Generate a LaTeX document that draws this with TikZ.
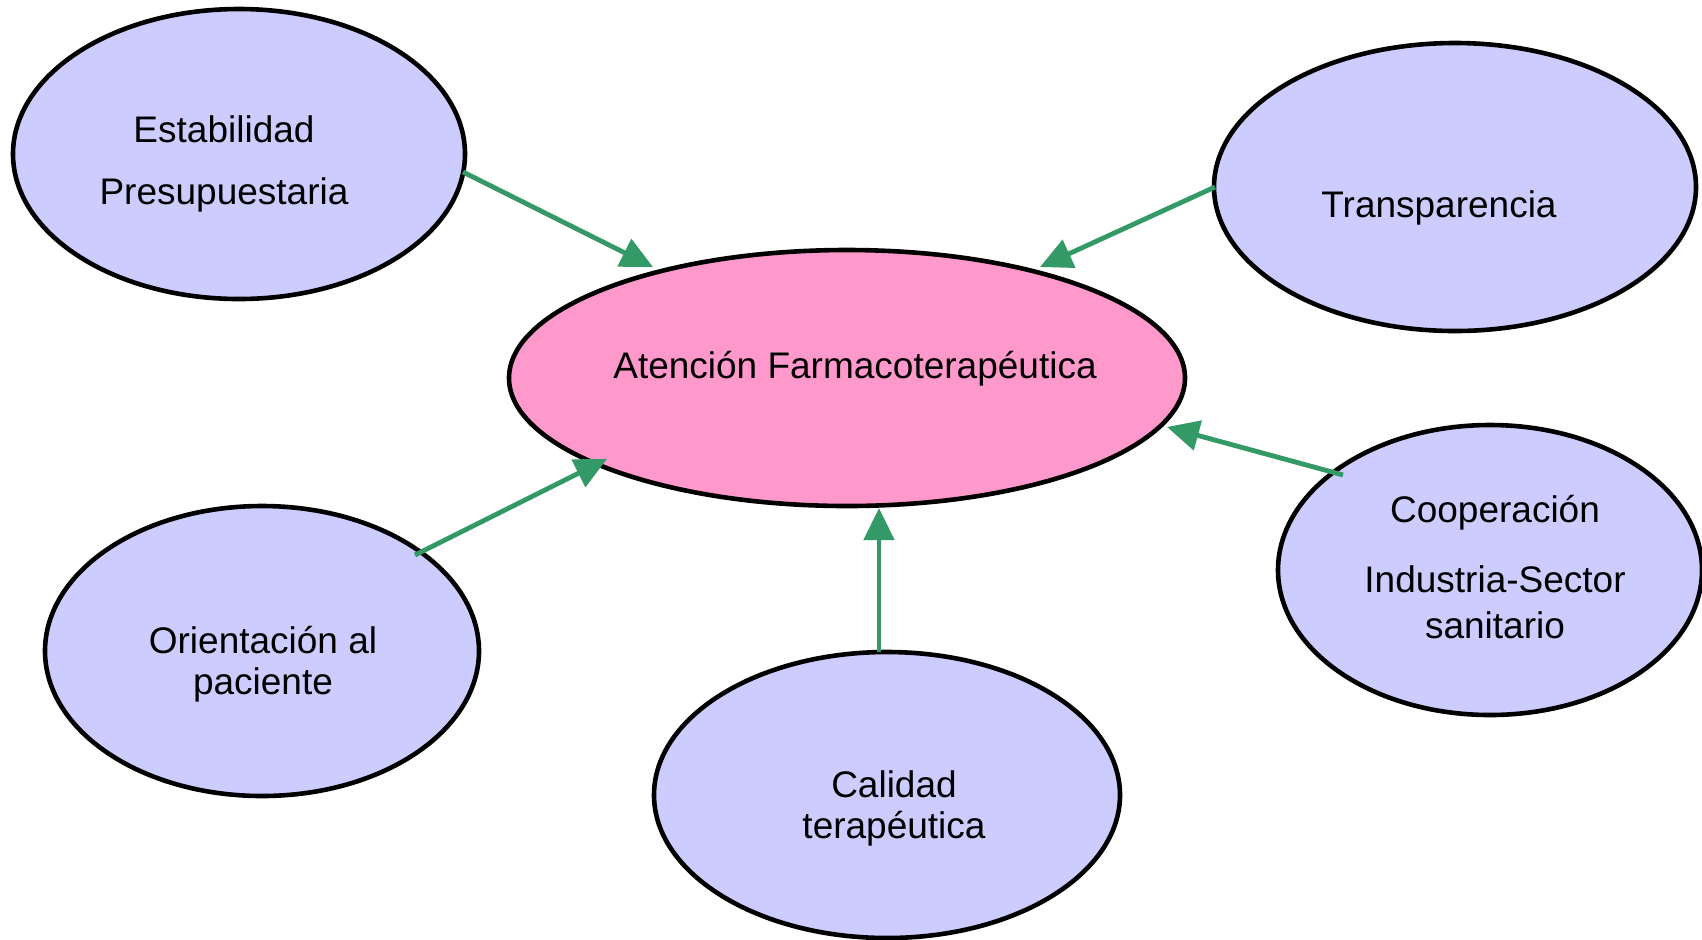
\documentclass[tikz,border=0pt]{standalone}
\usepackage{fontspec}
\setmainfont{Liberation Sans}
\usetikzlibrary{shapes.geometric,arrows.meta,calc}
\definecolor{nodeblue}{HTML}{CCCCFF}
\definecolor{nodepink}{HTML}{FF99CC}
\definecolor{arrgreen}{HTML}{339966}
\tikzset{
  oval/.style={ellipse, draw=black, line width=2.3pt, fill=nodeblue, inner sep=0pt},
  txt/.style={font=\fontsize{18.5pt}{22pt}\selectfont, inner sep=0pt, anchor=center},
  arr/.style={draw=arrgreen, line width=2.4pt, -{Triangle[length=16pt,width=15pt]}}
}
\begin{document}
\begin{tikzpicture}[x=0.5pt,y=-0.5pt]
\useasboundingbox (0,0) rectangle (1702,939);
\node[oval, minimum width=226pt, minimum height=145pt] (est) at (239,154) {};
\node[oval, minimum width=241pt, minimum height=144pt] (tra) at (1455,187) {};
\node[oval, fill=nodepink, minimum width=338pt, minimum height=128pt] (ctr) at (847,378) {};
\node[oval, minimum width=212pt, minimum height=145pt] (coo) at (1490,570) {};
\node[oval, minimum width=217pt, minimum height=145pt] (ori) at (262,651) {};
\node[oval, minimum width=233pt, minimum height=143pt] (cal) at (887,795) {};

\node[txt] (est1) at (224,129) {Estabilidad};
\node[txt] (est2) at (224,195) {Presupuestaria};
\node[txt] (tra1) at (1439,208) {Transparencia};
\node[txt] (ctr1) at (855,369) {Atención Farmacoterapéutica};
\node[txt] (coo1) at (1495,513) {Cooperación};
\node[txt] (coo2) at (1495,579) {Industria-Sector};
\node[txt] (coo3) at (1495,625) {sanitario};
\node[txt] (ori1) at (263,640) {Orientación al};
\node[txt] (ori2) at (263,685) {paciente};
\node[txt] (cal1) at (894,784) {Calidad};
\node[txt] (cal2) at (894,829) {terapéutica};

\draw[arr] ($(est.center)+(224,18)$) -- ($(ctr.center)+(-194,-111)$);
\draw[arr] ($(tra.center)+(-240,0)$) -- ($(ctr.center)+(193,-111)$);
\draw[arr] ($(coo.center)+(-147,-95)$) -- ($(ctr.center)+(320,49)$);
\draw[arr] ($(ori.center)+(153,-96)$) -- ($(ctr.center)+(-240,81)$);
\draw[arr] ($(cal.center)+(-8,-143)$) -- ($(ctr.center)+(32,130)$);
\end{tikzpicture}
\end{document}
